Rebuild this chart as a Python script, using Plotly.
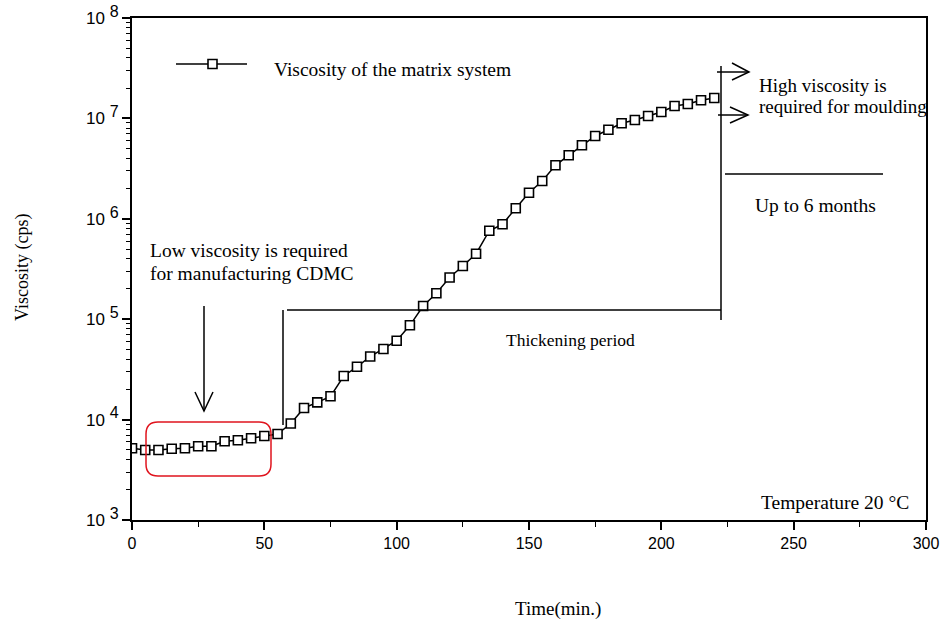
import plotly.graph_objects as go

# ---- data ----
time_min = [0, 5, 10, 15, 20, 25, 30, 35, 40, 45, 50, 55, 60, 65, 70, 75, 80, 85, 90, 95,
            100, 105, 110, 115, 120, 125, 130, 135, 140, 145, 150, 155, 160, 165, 170, 175,
            180, 185, 190, 195, 200, 205, 210, 215, 220]
viscosity_cps = [5180, 4980, 4980, 5130, 5180, 5420, 5420, 6080, 6220, 6510, 6870, 7190,
                 9140, 13050, 14860, 17060, 27180, 33560, 42500, 50500, 61100, 86900,
                 135300, 181100, 260300, 338800, 449000, 760800, 881600, 1273000, 1820000,
                 2378000, 3412000, 4288000, 5398000, 6680000, 7710000, 8935000, 9640000,
                 10570000, 11590000, 13300000, 13900000, 15140000, 15960000]
y_tick_vals = [1e3, 1e4, 1e5, 1e6, 1e7, 1e8]
y_tick_exp = ["3", "4", "5", "6", "7", "8"]
y_tick_text = ["10 <sup><span style='font-size:16px'>" + e + "</span></sup>" for e in y_tick_exp]
x_tick_vals = [0, 50, 100, 150, 200, 250, 300]
series_name = "Viscosity of the matrix system"

# ---- layout geometry ----
OFF = 0
W, H = 942, 623
L, R, T, B = 132, 16, 18, 103
PW, PH = W - L - R, H - T - B

def P(px, py):
    # absolute page pixel -> paper coordinates
    return (px - OFF - L) / PW, (H - B - (py - OFF)) / PH

SERIF = "Liberation Serif"
SANS = "Liberation Sans"

fig = go.Figure()
fig.add_trace(go.Scatter(
    x=time_min, y=viscosity_cps, mode="lines+markers", name=series_name,
    line=dict(color="black", width=1.5),
    marker=dict(symbol="square", size=9, color="white",
                line=dict(width=1.6, color="black")),
    showlegend=False,
))

minor_y = [m * 10 ** e for e in range(3, 8) for m in range(2, 10)]

fig.update_layout(
    width=W, height=H,
    margin=dict(l=L, r=R, t=T, b=B, autoexpand=False),
    plot_bgcolor="white", paper_bgcolor="white",
    showlegend=False,
    xaxis=dict(
        range=[0, 300], tickvals=x_tick_vals, showgrid=False, zeroline=False,
        automargin=False,
        showline=True, linecolor="black", linewidth=2, mirror=True,
        ticks="outside", ticklen=8, tickwidth=1.5, tickcolor="black",
        ticklabeloverflow="allow",
        tickfont=dict(family=SANS, size=16, color="black"),
        minor=dict(tickvals=[25, 75, 125, 175, 225, 275], ticks="outside",
                   ticklen=5, tickwidth=1.2, tickcolor="black", showgrid=False),
    ),
    yaxis=dict(
        type="log", range=[3, 8], tickvals=y_tick_vals, ticktext=y_tick_text,
        showgrid=False, zeroline=False,
        automargin=False,
        showline=True, linecolor="black", linewidth=2, mirror=True,
        ticks="outside", ticklen=8, tickwidth=1.5, tickcolor="black",
        ticklabeloverflow="allow",
        tickfont=dict(family=SANS, size=17, color="black"),
        minor=dict(tickvals=minor_y, ticks="outside", ticklen=4, tickwidth=1,
                   tickcolor="black", showgrid=False),
    ),
)

shapes = []

def line(x0, y0, x1, y1, color="black", width=1.5):
    a, b = P(x0, y0)
    c, d = P(x1, y1)
    shapes.append(dict(type="line", xref="paper", yref="paper", x0=a, y0=b, x1=c, y1=d,
                       line=dict(color=color, width=width)))

def polyline(pts, color="black", width=1.5, close=False, fill=None):
    s = ""
    for i, (px, py) in enumerate(pts):
        a, b = P(px, py)
        s += ("M" if i == 0 else "L") + f"{a},{b} "
    if close:
        s += "Z"
    shapes.append(dict(type="path", xref="paper", yref="paper", path=s,
                       line=dict(color=color, width=width),
                       fillcolor=fill if fill else "rgba(0,0,0,0)"))

# legend sample
line(176, 64, 247, 64)
polyline([(208, 59.5), (217, 59.5), (217, 68.5), (208, 68.5)], close=True, fill="white", width=1.6)

# down arrow
line(204, 306, 204, 411)
polyline([(195, 392), (204, 411), (213, 392)])

# red rounded box
x1, x2, y1, y2, r = 146, 271, 422, 476, 12
def pp(px, py):
    a, b = P(px, py)
    return f"{a},{b}"
path = (f"M{pp(x1+r,y1)} L{pp(x2-r,y1)} Q{pp(x2,y1)} {pp(x2,y1+r)} "
        f"L{pp(x2,y2-r)} Q{pp(x2,y2)} {pp(x2-r,y2)} L{pp(x1+r,y2)} "
        f"Q{pp(x1,y2)} {pp(x1,y2-r)} L{pp(x1,y1+r)} Q{pp(x1,y1)} {pp(x1+r,y1)} Z")
shapes.append(dict(type="path", xref="paper", yref="paper", path=path,
                   line=dict(color="#e0141e", width=1.5)))

# thickening period bracket
line(283, 310, 283, 425)
line(287, 310, 721, 310)
line(721, 66, 721, 320)

# right arrows
line(717, 72, 749, 72)
polyline([(732, 63), (749, 72), (732, 80)])
line(718, 115, 748, 115)
polyline([(730, 107), (748, 115), (730, 123)])

# up to 6 months line
line(725, 174, 883, 174)

fig.update_layout(shapes=shapes)

def text(t, px, py, size=16, family=SERIF, xanchor="left", angle=0):
    a, b = P(px, py)
    fig.add_annotation(text=t, x=a, y=b, xref="paper", yref="paper", showarrow=False,
                       xanchor=xanchor, yanchor="middle", textangle=angle,
                       font=dict(family=family, size=size, color="black"))

text(series_name, 272, 69, size=19.5)
text("Low viscosity is required", 148, 250, size=19.5)
text("for manufacturing CDMC", 148, 273, size=19.5)
text("Thickening period", 570, 340, size=17.5, xanchor="center")
text("High viscosity is", 757, 85, size=19)
text("required for moulding", 757, 107, size=19)
text("Up to 6 months", 815, 205, size=19.5, xanchor="center")
text("Temperature 20 °C", 911, 502, size=19.5, xanchor="right")
text("Viscosity (cps)", 22, 268, size=18, xanchor="center", angle=-90)
text("Time(min.)", 558, 609, size=19, xanchor="center")

fig.write_html("out.html", config={"displayModeBar": False},
               post_script="document.body.style.margin='0';document.body.style.overflow='hidden';")
